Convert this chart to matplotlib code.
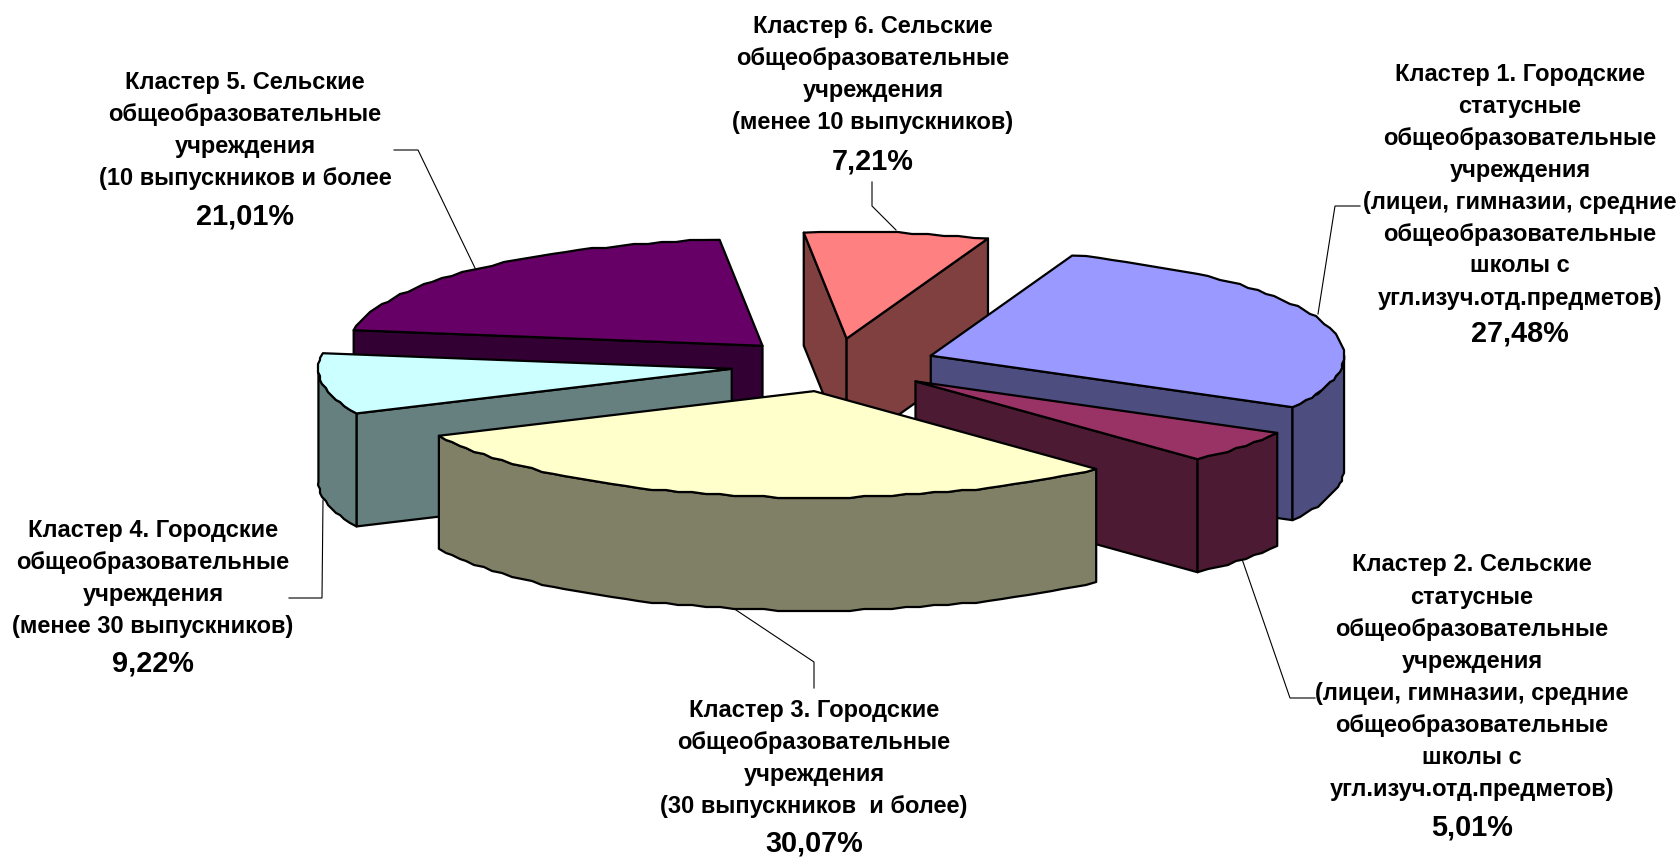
import numpy as np
import matplotlib
matplotlib.use("Agg")
import matplotlib.pyplot as plt
from matplotlib.patches import Polygon

plt.rcParams['font.family'] = ['Liberation Sans', 'DejaVu Sans']

# ---- data ----
clusters = ["Кластер 1", "Кластер 2", "Кластер 3", "Кластер 4", "Кластер 5", "Кластер 6"]
shares = [27.48, 5.01, 30.07, 9.22, 21.01, 7.21]
share_labels = ["27,48%", "5,01%", "30,07%", "9,22%", "21,01%", "7,21%"]
label_lines = [
    ["Кластер 1. Городские", "статусные", "общеобразовательные", "учреждения",
     "(лицеи, гимназии, средние", "общеобразовательные", "школы с", "угл.изуч.отд.предметов)"],
    ["Кластер 2. Сельские", "статусные", "общеобразовательные", "учреждения",
     "(лицеи, гимназии, средние", "общеобразовательные", "школы с", "угл.изуч.отд.предметов)"],
    ["Кластер 3. Городские", "общеобразовательные", "учреждения", "(30 выпускников  и более)"],
    ["Кластер 4. Городские", "общеобразовательные", "учреждения", "(менее 30 выпускников)"],
    ["Кластер 5. Сельские", "общеобразовательные", "учреждения", "(10 выпускников и более"],
    ["Кластер 6. Сельские", "общеобразовательные", "учреждения", "(менее 10 выпускников)"],
]
top_colors = ["#9999FF", "#993366", "#FFFFCC", "#CCFFFF", "#660066", "#FF8080"]
side_colors = ["#4D4D80", "#4D1A33", "#808066", "#668080", "#330033", "#804040"]

# ---- layout ----
W, H = 1679, 857
CX, CY = 834.0, 365.0
A, B = 413.3, 106.5
DEPTH = 113.0
EXPLODE = 0.25
START = 20.0
LW = 1.6
PAINT_ORDER = [4, 5, 0, 3, 1, 2]
# x centre, first line y, line pitch, percentage y
LABEL_POS = [
    (1520, 74, 32.0, 334),
    (1472, 565, 32.1, 828),
    (814, 710, 32.0, 844),
    (153, 530, 32.0, 663),
    (245, 82, 32.0, 216),
    (873, 26, 32.0, 161),
]
LEADERS = [
    [(1360, 206), (1335, 206), (1318, 314)],
    [(1242, 559), (1290, 698), (1315, 698)],
    [(733, 608), (814, 662), (814, 688)],
    [(323, 500), (322, 598), (289, 598)],
    [(475, 268), (418, 150), (394, 150)],
    [(896, 230), (872, 206), (872, 182)],
]

fig = plt.figure(figsize=(W / 100, H / 100), dpi=100, facecolor="white")
ax = fig.add_axes([0, 0, 1, 1])
ax.set_xlim(0, W)
ax.set_ylim(H, 0)
ax.axis("off")

vals = np.asarray(shares, float)
edges = START + 360 * np.concatenate([[0], np.cumsum(vals) / vals.sum()])


def project(theta):
    t = np.radians(theta)
    return np.column_stack([A * np.sin(t), -B * np.cos(t)])


def arc(t0, t1, apex):
    n = max(2, int(abs(t1 - t0) / 2.0) + 1)
    ts = np.linspace(t0, t1, n)
    pts = project(ts) + apex
    inner = pts[1:-1]
    pts[1:-1] = np.round(inner / 2.0) * 2.0  # slightly stepped outline of the old renderer
    return pts


def face(pts, color, z):
    ax.add_patch(Polygon(pts, closed=True, facecolor=color, edgecolor="black",
                         linewidth=LW, joinstyle="round", zorder=z))


z = 1
down = np.array([0, DEPTH])
for i in PAINT_ORDER:
    t0, t1 = edges[i], edges[i + 1]
    mid = (t0 + t1) / 2
    apex = np.array([CX, CY]) + EXPLODE * project(np.array([mid]))[0]
    p0 = project(np.array([t0]))[0] + apex
    p1 = project(np.array([t1]))[0] + apex
    # radial walls facing the viewer
    if np.cos(np.radians(t0 - 90)) < 0:
        face(np.array([apex, p0, p0 + down, apex + down]), side_colors[i], z); z += 1
    if np.cos(np.radians(t1 + 90)) < 0:
        face(np.array([apex, p1, p1 + down, apex + down]), side_colors[i], z); z += 1
    # outer wall, front half only
    lo, hi = max(t0, 90), min(t1, 270)
    if hi > lo:
        a = arc(lo, hi, apex)
        face(np.vstack([a, (a + down)[::-1]]), side_colors[i], z); z += 1
    # top
    face(np.vstack([apex, arc(t0, t1, apex)]), top_colors[i], z); z += 1

for pts in LEADERS:
    xs, ys = zip(*pts)
    ax.plot(xs, ys, color="black", lw=0.8, zorder=0.5, solid_joinstyle="miter")

for lines, pct, (x, y0, dy, yp) in zip(label_lines, share_labels, LABEL_POS):
    for k, s in enumerate(lines):
        ax.text(x, y0 + k * dy, s, ha="center", va="center", fontsize=17.0,
                fontweight="bold", color="black", zorder=50)
    ax.text(x, yp, pct, ha="center", va="center", fontsize=20.8,
            fontweight="bold", color="black", zorder=50)

fig.savefig("out.png", dpi=100, facecolor="white")
